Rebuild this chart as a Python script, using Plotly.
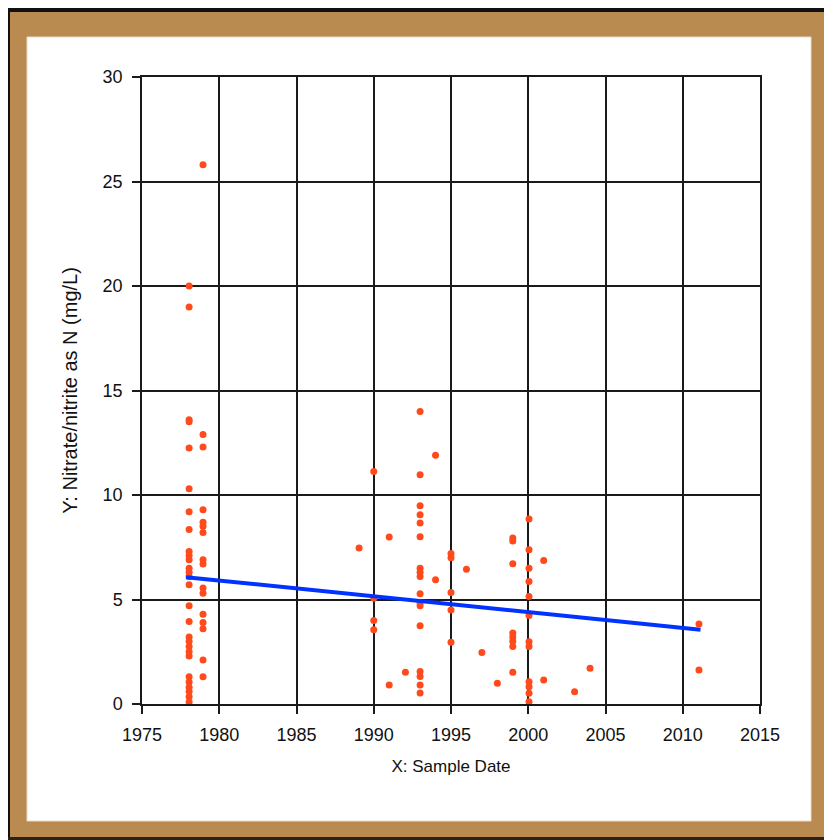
import plotly.graph_objects as go

# ---- data ----
sample_year = (
    [1978.05] * 28
    + [1978.95] * 16
    + [1989.05]
    + [1990.0] * 4
    + [1991.0] * 2
    + [1992.05]
    + [1993.0] * 17
    + [1994.0] * 2
    + [1995.0] * 5
    + [1996.0, 1997.0, 1998.0]
    + [1999.0] * 8
    + [2000.05] * 12
    + [2001.0] * 2
    + [2003.0, 2004.0]
    + [2011.05] * 2
)
nitrate = (
    [20.0, 19.0, 13.6, 13.5, 12.25, 10.3, 9.2, 8.35, 7.3, 7.1, 6.9, 6.5, 6.3, 6.1,
     5.7, 4.7, 3.95, 3.2, 3.0, 2.75, 2.5, 2.3, 1.3, 1.05, 0.8, 0.6, 0.35, 0.1]
    + [25.8, 12.9, 12.3, 9.3, 8.7, 8.5, 8.2, 6.9, 6.7, 5.55, 5.3, 4.3, 3.9, 3.6, 2.1, 1.3]
    + [7.46]
    + [11.13, 5.06, 3.99, 3.55]
    + [7.99, 0.91]
    + [1.52]
    + [14.0, 10.97, 9.49, 9.06, 8.66, 8.0, 6.5, 6.3, 6.1, 5.27, 4.84, 4.7, 3.74,
       1.55, 1.31, 0.91, 0.53]
    + [11.9, 5.94]
    + [7.2, 7.0, 5.33, 4.5, 2.96]
    + [6.45, 2.46, 0.99]
    + [7.94, 7.8, 6.71, 3.4, 3.2, 3.0, 2.75, 1.52]
    + [8.85, 7.38, 6.5, 5.86, 5.14, 4.23, 2.98, 2.75, 1.07, 0.83, 0.51, 0.11]
    + [6.87, 1.15]
    + [0.59, 1.71]
    + [3.83, 1.63]
)
trend_year = [1977.85, 2011.15]
trend_value = [6.07, 3.55]

x_ticks = [1975, 1980, 1985, 1990, 1995, 2000, 2005, 2010, 2015]
y_ticks = [0, 5, 10, 15, 20, 25, 30]

# ---- figure geometry (page has an 8px body margin) ----
OFF = 8
W, H = 832 - OFF, 840 - OFF
L, R, T, B = 142 - OFF, 760 - OFF, 77 - OFF, 704 - OFF


def px(x):
    return (x - OFF - L) / (R - L)


def py(y):
    return (B - (y - OFF)) / (B - T)


fig = go.Figure()
fig.add_trace(go.Scatter(
    x=sample_year, y=nitrate, mode="markers",
    marker=dict(symbol="circle", size=7, color="#ff4a1c", line=dict(width=0)),
    hoverinfo="x+y", showlegend=False,
))
fig.add_trace(go.Scatter(
    x=trend_year, y=trend_value, mode="lines",
    line=dict(color="#0033ff", width=4), showlegend=False,
))

brown = "#b98b50"
shapes = [
    dict(type="rect", xref="paper", yref="paper", x0=px(8), x1=px(845), y0=py(0), y1=py(845),
         fillcolor=brown, line=dict(width=0), layer="below"),
    dict(type="rect", xref="paper", yref="paper", x0=px(8), x1=px(845), y0=py(0), y1=py(12),
         fillcolor="#111111", line=dict(width=0), layer="below"),
    dict(type="rect", xref="paper", yref="paper", x0=px(8), x1=px(10), y0=py(0), y1=py(845),
         fillcolor="#111111", line=dict(width=0), layer="below"),
    dict(type="rect", xref="paper", yref="paper", x0=px(8), x1=px(845), y0=py(837), y1=py(845),
         fillcolor="#2a2118", line=dict(width=0), layer="below"),
    dict(type="rect", xref="paper", yref="paper", x0=px(27), x1=px(811), y0=py(37), y1=py(821),
         fillcolor="white", line=dict(width=1, color="#e8dcc8"), layer="below"),
]

font = "Liberation Sans, Arial, sans-serif"
axis_common = dict(
    showgrid=True, gridcolor="#1a1a1a", gridwidth=1.5,
    showline=True, linecolor="#1a1a1a", linewidth=1.5, mirror=True,
    ticks="outside", ticklen=8, tickwidth=1.5, tickcolor="#1a1a1a",
    zeroline=False, tickfont=dict(family=font, size=18, color="#111111"),
)

fig.update_layout(
    width=W, height=H,
    margin=dict(l=L, r=W - R, t=T, b=H - B),
    paper_bgcolor="white", plot_bgcolor="white",
    shapes=shapes,
    xaxis=dict(range=[1975, 2015], tickvals=x_ticks, ticktext=[str(v) for v in x_ticks],
               title=dict(text="X: Sample Date", font=dict(family=font, size=17, color="#111111"),
                          standoff=16),
               ticklabelstandoff=6, **axis_common),
    yaxis=dict(range=[0, 30], tickvals=y_ticks, ticktext=[str(v) for v in y_ticks],
               title=dict(text="Y: Nitrate/nitrite as N (mg/L)",
                          font=dict(family=font, size=20, color="#111111"), standoff=20),
               ticklabelstandoff=6, **axis_common),
    showlegend=False,
)

fig.write_html("out.html")
